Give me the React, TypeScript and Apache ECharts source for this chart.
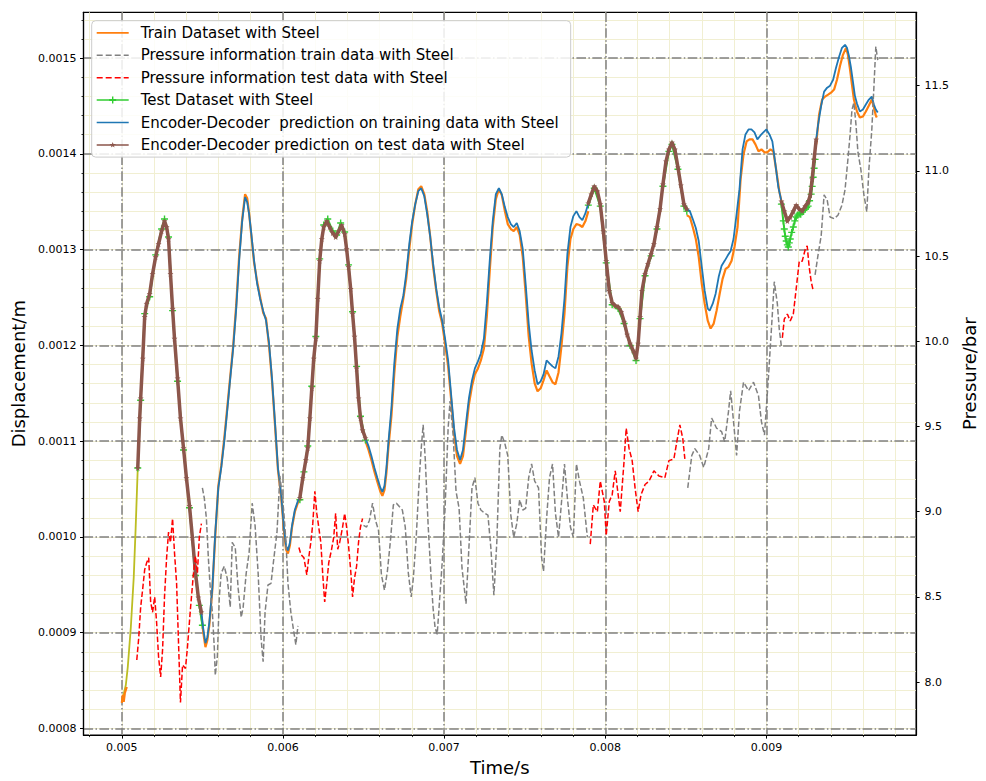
import React, { useEffect, useRef } from "react";
import * as echarts from "echarts";

type Pt = [number, number];

// ---------- Displacement (left axis) ----------
const initialRise: Pt[] = [[0.005000,0.0008298],[0.005012,0.0008361],[0.005025,0.0008454],[0.005037,0.0008641],[0.005056,0.0009057],[0.005074,0.0009577],[0.005086,0.0010097],[0.005099,0.0010720]];

const trainSeg0: Pt[] = [[0.005000,0.0008267],[0.005006,0.0008350],[0.005012,0.0008278],[0.005019,0.0008371],[0.005031,0.0008433]];
const trainSeg1: Pt[] = [[0.005494,0.0009182],[0.005506,0.0008995],[0.005519,0.0008849],[0.005531,0.0008922],[0.005543,0.0009078],[0.005562,0.0009452],[0.005580,0.0010014],[0.005599,0.0010533],[0.005617,0.0010741],[0.005636,0.0011032],[0.005654,0.0011344],[0.005673,0.0011677],[0.005691,0.0011989],[0.005710,0.0012425],[0.005728,0.0012924],[0.005747,0.0013319],[0.005765,0.0013579],[0.005778,0.0013537],[0.005790,0.0013381],[0.005802,0.0013174],[0.005821,0.0012862],[0.005840,0.0012664],[0.005858,0.0012508],[0.005877,0.0012342],[0.005895,0.0012280],[0.005914,0.0011989],[0.005932,0.0011635],[0.005951,0.0011157],[0.005969,0.0010700],[0.005988,0.0010429],[0.006006,0.0010066],[0.006019,0.0009868],[0.006031,0.0009826],[0.006043,0.0009910],[0.006056,0.0010097],[0.006074,0.0010263],[0.006093,0.0010357],[0.006105,0.0010388]];
const trainSeg2: Pt[] = [[0.006512,0.0011001],[0.006531,0.0010908],[0.006549,0.0010804],[0.006568,0.0010679],[0.006586,0.0010575],[0.006605,0.0010471],[0.006617,0.0010429],[0.006630,0.0010492],[0.006642,0.0010668],[0.006654,0.0010928],[0.006673,0.0011261],[0.006691,0.0011708],[0.006710,0.0012093],[0.006728,0.0012300],[0.006747,0.0012488],[0.006765,0.0012695],[0.006784,0.0013007],[0.006802,0.0013267],[0.006821,0.0013475],[0.006840,0.0013631],[0.006858,0.0013662],[0.006877,0.0013579],[0.006895,0.0013402],[0.006914,0.0013132],[0.006932,0.0012820],[0.006951,0.0012571],[0.006969,0.0012363],[0.006988,0.0012228],[0.007006,0.0012020],[0.007025,0.0011781],[0.007043,0.0011448],[0.007062,0.0011074],[0.007080,0.0010845],[0.007099,0.0010762],[0.007117,0.0010845],[0.007136,0.0011115],[0.007154,0.0011386],[0.007173,0.0011573],[0.007191,0.0011698],[0.007210,0.0011760],[0.007228,0.0011843],[0.007247,0.0011968],[0.007265,0.0012300],[0.007284,0.0012799],[0.007302,0.0013236],[0.007321,0.0013527],[0.007340,0.0013631],[0.007358,0.0013569],[0.007377,0.0013402],[0.007395,0.0013267],[0.007414,0.0013215],[0.007432,0.0013194],[0.007451,0.0013236],[0.007469,0.0013153],[0.007488,0.0012924],[0.007506,0.0012540],[0.007525,0.0012093],[0.007543,0.0011812],[0.007562,0.0011604],[0.007580,0.0011521],[0.007599,0.0011552],[0.007617,0.0011635],[0.007636,0.0011739],[0.007654,0.0011677],[0.007673,0.0011614],[0.007691,0.0011594],[0.007710,0.0011718],[0.007728,0.0011989],[0.007747,0.0012332],[0.007765,0.0012820],[0.007784,0.0013111],[0.007802,0.0013215],[0.007821,0.0013267],[0.007840,0.0013257],[0.007858,0.0013236],[0.007877,0.0013298],[0.007895,0.0013402]];
const trainSeg3: Pt[] = [[0.008506,0.0013361],[0.008525,0.0013340],[0.008543,0.0013236],[0.008562,0.0013111],[0.008580,0.0012924],[0.008599,0.0012643],[0.008617,0.0012436],[0.008636,0.0012259],[0.008654,0.0012176],[0.008673,0.0012228],[0.008691,0.0012363],[0.008710,0.0012540],[0.008728,0.0012695],[0.008747,0.0012799],[0.008765,0.0012820],[0.008784,0.0012883],[0.008802,0.0013028],[0.008821,0.0013236],[0.008840,0.0013735],[0.008858,0.0013995],[0.008877,0.0014130],[0.008895,0.0014151],[0.008914,0.0014151],[0.008932,0.0014099],[0.008951,0.0014026],[0.008969,0.0014047],[0.008988,0.0014016],[0.009006,0.0014016],[0.009025,0.0014047],[0.009043,0.0014026],[0.009062,0.0013818],[0.009080,0.0013610],[0.009093,0.0013506]];
const trainSeg4: Pt[] = [[0.009309,0.0014099],[0.009327,0.0014411],[0.009346,0.0014567],[0.009364,0.0014598],[0.009383,0.0014618],[0.009401,0.0014639],[0.009420,0.0014671],[0.009438,0.0014774],[0.009457,0.0014920],[0.009475,0.0015034],[0.009494,0.0015107],[0.009506,0.0015034],[0.009519,0.0014879],[0.009531,0.0014722],[0.009543,0.0014567],[0.009562,0.0014442],[0.009580,0.0014379],[0.009599,0.0014390],[0.009617,0.0014442],[0.009636,0.0014504],[0.009654,0.0014567],[0.009667,0.0014483],[0.009679,0.0014400],[0.009685,0.0014379]];

const testSeg1: Pt[] = [[0.005099,0.0010720],[0.005117,0.0011427],[0.005142,0.0012332],[0.005173,0.0012508],[0.005210,0.0012945],[0.005247,0.0013215],[0.005265,0.0013319],[0.005290,0.0013132],[0.005315,0.0012363],[0.005346,0.0011625],[0.005383,0.0010908],[0.005420,0.0010305],[0.005457,0.0009598],[0.005481,0.0009286],[0.005500,0.0009078]];
const testSeg2: Pt[] = [[0.006105,0.0010388],[0.006130,0.0010679],[0.006154,0.0010949],[0.006179,0.0011573],[0.006204,0.0012093],[0.006228,0.0012903],[0.006253,0.0013257],[0.006278,0.0013319],[0.006309,0.0013194],[0.006333,0.0013153],[0.006358,0.0013278],[0.006383,0.0013184],[0.006407,0.0012841],[0.006432,0.0012352],[0.006457,0.0011781],[0.006481,0.0011261],[0.006512,0.0011011]];
const testSeg3: Pt[] = [[0.007895,0.0013465],[0.007932,0.0013641],[0.007969,0.0013454],[0.008006,0.0012862],[0.008043,0.0012425],[0.008080,0.0012384],[0.008117,0.0012228],[0.008154,0.0011999],[0.008191,0.0011843],[0.008216,0.0012280],[0.008247,0.0012727],[0.008284,0.0012935],[0.008321,0.0013215],[0.008358,0.0013662],[0.008395,0.0014026],[0.008414,0.0014099],[0.008451,0.0013839],[0.008488,0.0013454],[0.008506,0.0013402]];
const testSeg4: Pt[] = [[0.009093,0.0013475],[0.009105,0.0013300],[0.009111,0.0013215],[0.009117,0.0013140],[0.009123,0.0013090],[0.009130,0.0013050],[0.009136,0.0013028],[0.009142,0.0013070],[0.009148,0.0013111],[0.009157,0.0013180],[0.009167,0.0013236],[0.009176,0.0013300],[0.009185,0.0013340],[0.009194,0.0013360],[0.009204,0.0013381],[0.009213,0.0013370],[0.009222,0.0013392],[0.009231,0.0013410],[0.009241,0.0013423],[0.009250,0.0013440],[0.009259,0.0013454],[0.009268,0.0013510],[0.009278,0.0013579],[0.009284,0.0013660],[0.009290,0.0013756],[0.009296,0.0013850],[0.009302,0.0013942]];

const predTrainSeg1: Pt[] = [[0.005494,0.0009213],[0.005506,0.0009036],[0.005519,0.0008891],[0.005531,0.0008953],[0.005543,0.0009109],[0.005562,0.0009473],[0.005580,0.0010045],[0.005599,0.0010512],[0.005617,0.0010720],[0.005636,0.0011001],[0.005654,0.0011313],[0.005673,0.0011656],[0.005691,0.0011968],[0.005710,0.0012384],[0.005728,0.0012883],[0.005747,0.0013298],[0.005765,0.0013548],[0.005778,0.0013496],[0.005790,0.0013371],[0.005802,0.0013194],[0.005821,0.0012883],[0.005840,0.0012643],[0.005858,0.0012488],[0.005877,0.0012363],[0.005895,0.0012259],[0.005914,0.0012020],[0.005932,0.0011656],[0.005951,0.0011188],[0.005969,0.0010720],[0.005988,0.0010461],[0.006006,0.0010097],[0.006019,0.0009910],[0.006031,0.0009858],[0.006043,0.0009941],[0.006056,0.0010117],[0.006074,0.0010284],[0.006093,0.0010377],[0.006105,0.0010409]];
const predTrainSeg2: Pt[] = [[0.006512,0.0011032],[0.006531,0.0010949],[0.006549,0.0010845],[0.006568,0.0010720],[0.006586,0.0010616],[0.006605,0.0010512],[0.006617,0.0010471],[0.006630,0.0010533],[0.006642,0.0010720],[0.006654,0.0010980],[0.006673,0.0011344],[0.006691,0.0011812],[0.006710,0.0012176],[0.006728,0.0012384],[0.006747,0.0012519],[0.006765,0.0012747],[0.006784,0.0013059],[0.006802,0.0013298],[0.006821,0.0013475],[0.006840,0.0013610],[0.006858,0.0013641],[0.006877,0.0013558],[0.006895,0.0013371],[0.006914,0.0013132],[0.006932,0.0012851],[0.006951,0.0012592],[0.006969,0.0012404],[0.006988,0.0012259],[0.007006,0.0012072],[0.007025,0.0011843],[0.007043,0.0011500],[0.007062,0.0011136],[0.007080,0.0010908],[0.007099,0.0010804],[0.007117,0.0010908],[0.007136,0.0011188],[0.007154,0.0011448],[0.007173,0.0011635],[0.007191,0.0011760],[0.007210,0.0011833],[0.007228,0.0011916],[0.007247,0.0012072],[0.007265,0.0012436],[0.007284,0.0012903],[0.007302,0.0013298],[0.007321,0.0013579],[0.007340,0.0013641],[0.007358,0.0013579],[0.007377,0.0013444],[0.007395,0.0013340],[0.007414,0.0013267],[0.007432,0.0013236],[0.007451,0.0013278],[0.007469,0.0013194],[0.007488,0.0013007],[0.007506,0.0012643],[0.007525,0.0012228],[0.007543,0.0011947],[0.007562,0.0011739],[0.007580,0.0011594],[0.007599,0.0011625],[0.007617,0.0011698],[0.007636,0.0011843],[0.007654,0.0011812],[0.007673,0.0011781],[0.007691,0.0011760],[0.007710,0.0011885],[0.007728,0.0012124],[0.007747,0.0012488],[0.007765,0.0012955],[0.007784,0.0013236],[0.007802,0.0013350],[0.007821,0.0013402],[0.007840,0.0013340],[0.007858,0.0013309],[0.007877,0.0013381],[0.007895,0.0013485]];
const predTrainSeg3: Pt[] = [[0.008506,0.0013423],[0.008525,0.0013402],[0.008543,0.0013319],[0.008562,0.0013226],[0.008580,0.0013090],[0.008599,0.0012820],[0.008617,0.0012571],[0.008636,0.0012384],[0.008648,0.0012363],[0.008667,0.0012436],[0.008685,0.0012540],[0.008704,0.0012716],[0.008722,0.0012831],[0.008741,0.0012883],[0.008759,0.0012935],[0.008778,0.0012986],[0.008796,0.0013111],[0.008815,0.0013371],[0.008833,0.0013631],[0.008852,0.0014047],[0.008870,0.0014203],[0.008889,0.0014255],[0.008907,0.0014255],[0.008926,0.0014224],[0.008944,0.0014151],[0.008963,0.0014192],[0.008981,0.0014224],[0.009000,0.0014255],[0.009019,0.0014203],[0.009037,0.0014130],[0.009056,0.0013891],[0.009074,0.0013652],[0.009093,0.0013506]];
const predTrainSeg4: Pt[] = [[0.009309,0.0014151],[0.009321,0.0014307],[0.009340,0.0014504],[0.009358,0.0014650],[0.009377,0.0014691],[0.009395,0.0014712],[0.009414,0.0014774],[0.009432,0.0014899],[0.009451,0.0015014],[0.009469,0.0015107],[0.009488,0.0015138],[0.009500,0.0015107],[0.009512,0.0015024],[0.009525,0.0014899],[0.009537,0.0014754],[0.009549,0.0014608],[0.009562,0.0014525],[0.009580,0.0014442],[0.009599,0.0014463],[0.009617,0.0014515],[0.009636,0.0014567],[0.009654,0.0014598],[0.009667,0.0014515],[0.009679,0.0014463],[0.009691,0.0014431]];

const predTestSeg1: Pt[] = [[0.005099,0.0010720],[0.005111,0.0011240],[0.005117,0.0011448],[0.005130,0.0011864],[0.005142,0.0012300],[0.005154,0.0012436],[0.005173,0.0012540],[0.005191,0.0012747],[0.005210,0.0012924],[0.005228,0.0013059],[0.005247,0.0013194],[0.005265,0.0013298],[0.005278,0.0013236],[0.005290,0.0013111],[0.005302,0.0012747],[0.005315,0.0012384],[0.005327,0.0012072],[0.005346,0.0011656],[0.005364,0.0011240],[0.005383,0.0010928],[0.005401,0.0010616],[0.005420,0.0010325],[0.005438,0.0009993],[0.005457,0.0009629],[0.005475,0.0009369],[0.005494,0.0009213]];
const predTestSeg2: Pt[] = [[0.006105,0.0010409],[0.006123,0.0010616],[0.006142,0.0010804],[0.006154,0.0010928],[0.006167,0.0011240],[0.006179,0.0011552],[0.006191,0.0011864],[0.006204,0.0012072],[0.006216,0.0012488],[0.006228,0.0012883],[0.006241,0.0013111],[0.006253,0.0013236],[0.006272,0.0013298],[0.006290,0.0013236],[0.006309,0.0013174],[0.006327,0.0013132],[0.006346,0.0013194],[0.006364,0.0013257],[0.006383,0.0013163],[0.006395,0.0013007],[0.006407,0.0012820],[0.006420,0.0012592],[0.006432,0.0012332],[0.006444,0.0012093],[0.006457,0.0011760],[0.006469,0.0011448],[0.006481,0.0011240],[0.006494,0.0011115],[0.006512,0.0011032]];
const predTestSeg3: Pt[] = [[0.007895,0.0013485],[0.007914,0.0013579],[0.007932,0.0013662],[0.007951,0.0013610],[0.007969,0.0013475],[0.007988,0.0013194],[0.008006,0.0012883],[0.008025,0.0012571],[0.008043,0.0012446],[0.008062,0.0012415],[0.008080,0.0012404],[0.008099,0.0012352],[0.008117,0.0012248],[0.008136,0.0012113],[0.008154,0.0012020],[0.008173,0.0011947],[0.008191,0.0011864],[0.008204,0.0012020],[0.008216,0.0012300],[0.008228,0.0012571],[0.008247,0.0012747],[0.008265,0.0012851],[0.008284,0.0012955],[0.008302,0.0013059],[0.008321,0.0013236],[0.008340,0.0013423],[0.008358,0.0013683],[0.008377,0.0013922],[0.008395,0.0014047],[0.008414,0.0014120],[0.008432,0.0014047],[0.008451,0.0013860],[0.008469,0.0013673],[0.008488,0.0013475],[0.008506,0.0013423]];
const predTestSeg4: Pt[] = [[0.009093,0.0013506],[0.009111,0.0013402],[0.009130,0.0013298],[0.009148,0.0013340],[0.009167,0.0013402],[0.009185,0.0013465],[0.009204,0.0013423],[0.009222,0.0013402],[0.009241,0.0013454],[0.009259,0.0013496],[0.009272,0.0013569],[0.009284,0.0013735],[0.009296,0.0013942],[0.009309,0.0014151]];

// ---------- Pressure (right axis) ----------
const pressTrainSeg1: Pt[] = [[0.005500,9.14],[0.005512,9.08],[0.005525,8.96],[0.005537,8.73],[0.005549,8.55],[0.005562,8.41],[0.005574,8.20],[0.005580,8.04],[0.005593,8.15],[0.005605,8.50],[0.005617,8.64],[0.005636,8.68],[0.005654,8.61],[0.005673,8.44],[0.005685,8.82],[0.005704,8.79],[0.005722,8.55],[0.005741,8.38],[0.005753,8.44],[0.005772,8.64],[0.005790,8.76],[0.005809,9.05],[0.005827,8.92],[0.005846,8.64],[0.005864,8.26],[0.005877,8.12],[0.005889,8.41],[0.005907,8.57],[0.005926,8.58],[0.005944,8.73],[0.005963,8.88],[0.005981,9.21],[0.005994,9.11],[0.006006,8.99],[0.006019,8.82],[0.006031,8.58],[0.006049,8.41],[0.006068,8.29],[0.006080,8.22],[0.006093,8.33]];
const pressTrainSeg2: Pt[] = [[0.006500,8.92],[0.006519,8.91],[0.006537,8.95],[0.006556,9.05],[0.006574,8.95],[0.006593,8.89],[0.006611,8.63],[0.006630,8.54],[0.006648,8.65],[0.006667,8.83],[0.006685,9.04],[0.006704,9.05],[0.006722,9.03],[0.006741,9.01],[0.006759,8.91],[0.006778,8.64],[0.006796,8.50],[0.006809,8.61],[0.006827,8.85],[0.006846,9.20],[0.006858,9.37],[0.006870,9.51],[0.006883,9.31],[0.006901,8.92],[0.006920,8.60],[0.006932,8.43],[0.006944,8.32],[0.006957,8.28],[0.006969,8.44],[0.006988,8.70],[0.007006,9.02],[0.007025,9.49],[0.007037,9.65],[0.007056,9.45],[0.007074,9.12],[0.007093,9.02],[0.007111,8.67],[0.007136,8.46],[0.007154,8.79],[0.007173,9.14],[0.007191,9.20],[0.007210,9.05],[0.007228,9.01],[0.007253,8.99],[0.007272,8.98],[0.007290,8.79],[0.007309,8.51],[0.007327,8.82],[0.007346,9.37],[0.007358,9.45],[0.007377,9.40],[0.007395,9.33],[0.007414,8.98],[0.007432,8.85],[0.007451,8.93],[0.007469,9.07],[0.007488,9.01],[0.007506,9.02],[0.007525,9.20],[0.007543,9.28],[0.007562,9.18],[0.007586,9.14],[0.007605,8.73],[0.007617,8.65],[0.007636,8.96],[0.007654,9.20],[0.007673,9.28],[0.007691,8.99],[0.007710,8.85],[0.007728,9.05],[0.007747,9.28],[0.007765,9.08],[0.007784,8.91],[0.007802,8.85],[0.007821,9.28],[0.007840,9.18],[0.007864,9.08],[0.007889,8.85]];
const pressTrainSeg3: Pt[] = [[0.008512,9.14],[0.008537,9.33],[0.008556,9.37],[0.008586,9.33],[0.008611,9.26],[0.008642,9.37],[0.008660,9.55],[0.008691,9.49],[0.008722,9.47],[0.008741,9.41],[0.008765,9.59],[0.008778,9.71],[0.008796,9.53],[0.008815,9.33],[0.008833,9.59],[0.008858,9.76],[0.008889,9.71],[0.008920,9.76],[0.008951,9.68],[0.008969,9.53],[0.008988,9.45],[0.009012,9.78],[0.009031,10.07],[0.009049,10.35],[0.009068,10.22],[0.009080,10.07],[0.009093,9.97]];
const pressTrainSeg4: Pt[] = [[0.009302,10.39],[0.009321,10.51],[0.009340,10.62],[0.009358,10.86],[0.009377,10.83],[0.009395,10.73],[0.009420,10.72],[0.009444,10.74],[0.009469,10.80],[0.009488,10.89],[0.009506,11.07],[0.009519,11.21],[0.009531,11.36],[0.009543,11.40],[0.009556,11.27],[0.009568,11.11],[0.009586,11.01],[0.009605,10.86],[0.009623,10.76],[0.009636,11.01],[0.009654,11.24],[0.009667,11.49],[0.009679,11.73],[0.009691,11.65]];

const pressTestSeg1: Pt[] = [[0.005093,8.13],[0.005105,8.26],[0.005117,8.44],[0.005130,8.55],[0.005142,8.66],[0.005154,8.70],[0.005167,8.73],[0.005179,8.47],[0.005191,8.41],[0.005204,8.50],[0.005216,8.35],[0.005228,8.15],[0.005241,8.03],[0.005253,8.19],[0.005265,8.50],[0.005278,8.73],[0.005290,8.88],[0.005302,8.82],[0.005315,8.96],[0.005327,8.76],[0.005340,8.58],[0.005352,8.23],[0.005364,7.88],[0.005377,8.10],[0.005395,8.08],[0.005407,8.20],[0.005426,8.43],[0.005444,8.63],[0.005457,8.74],[0.005469,8.64],[0.005481,8.85],[0.005494,8.93]];
const pressTestSeg2: Pt[] = [[0.006099,8.79],[0.006111,8.75],[0.006130,8.73],[0.006148,8.63],[0.006160,8.73],[0.006173,8.82],[0.006185,8.93],[0.006198,9.12],[0.006210,8.99],[0.006222,8.91],[0.006235,8.82],[0.006247,8.63],[0.006259,8.47],[0.006272,8.58],[0.006284,8.70],[0.006302,8.78],[0.006315,8.85],[0.006327,8.99],[0.006340,8.78],[0.006352,8.82],[0.006370,8.91],[0.006383,8.99],[0.006395,8.91],[0.006407,8.80],[0.006420,8.66],[0.006432,8.50],[0.006444,8.61],[0.006457,8.68],[0.006469,8.82],[0.006481,8.91],[0.006494,8.96]];
const pressTestSeg3: Pt[] = [[0.007907,8.81],[0.007926,9.04],[0.007951,9.00],[0.007969,9.18],[0.007994,9.06],[0.008006,8.86],[0.008025,9.06],[0.008043,9.10],[0.008062,9.24],[0.008080,9.10],[0.008093,9.00],[0.008117,9.30],[0.008130,9.49],[0.008148,9.37],[0.008167,9.30],[0.008185,9.14],[0.008204,9.00],[0.008222,9.10],[0.008247,9.16],[0.008272,9.18],[0.008302,9.24],[0.008333,9.21],[0.008370,9.20],[0.008395,9.30],[0.008426,9.31],[0.008444,9.41],[0.008463,9.51],[0.008481,9.43],[0.008494,9.31]];
const pressTestSeg4: Pt[] = [[0.009099,10.02],[0.009111,10.13],[0.009130,10.16],[0.009148,10.12],[0.009167,10.16],[0.009185,10.31],[0.009204,10.47],[0.009222,10.47],[0.009241,10.54],[0.009253,10.56],[0.009265,10.44],[0.009278,10.35],[0.009290,10.30]];

// ---------- Ticks ----------
const xMajorTicks = [0.005, 0.006, 0.007, 0.008, 0.009];
const xMinorTicks = [0.0048,0.0050,0.0052,0.0054,0.0056,0.0058,0.0060,0.0062,0.0064,0.0066,0.0068,0.0070,0.0072,0.0074,0.0076,0.0078,0.0080,0.0082,0.0084,0.0086,0.0088,0.0090,0.0092,0.0094,0.0096,0.0098];
const yMajorTicks = [0.0008,0.0009,0.0010,0.0011,0.0012,0.0013,0.0014,0.0015];
const yMinorTicks = [0.00080,0.00082,0.00084,0.00086,0.00088,0.00090,0.00092,0.00094,0.00096,0.00098,0.00100,0.00102,0.00104,0.00106,0.00108,0.00110,0.00112,0.00114,0.00116,0.00118,0.00120,0.00122,0.00124,0.00126,0.00128,0.00130,0.00132,0.00134,0.00136,0.00138,0.00140,0.00142,0.00144,0.00146,0.00148,0.00150,0.00152,0.00154];
const pMajorTicks = [8.0,8.5,9.0,9.5,10.0,10.5,11.0,11.5];

const NAMES = [
  "Train Dataset with Steel",
  "Pressure information train data with Steel",
  "Pressure information test data with Steel",
  "Test Dataset with Steel",
  "Encoder-Decoder  prediction on training data with Steel",
  "Encoder-Decoder prediction on test data with Steel",
];

const X_MIN = 0.0047623, X_MAX = 0.009929;
const Y_MIN = 0.0007931, Y_MAX = 0.0015478;
const P_MIN = 7.689, P_MAX = 11.931;

const FONT = "DejaVu Sans";
const DASH_DOT = [9.6, 2.4, 1.5, 2.4];
const PLUS = "path://M4,0H6V4H10V6H6V10H4V6H0V4H4Z";
const STAR = "path://M5,0L6.2,3.5L10,3.6L7,5.9L8.1,9.5L5,7.4L1.9,9.5L3,5.9L0,3.6L3.8,3.5Z";

// legend icons (32 x 12 box, tiny corner squares fix the bounding box)
const CORNERS = "M0,0h0.02v0.02h-0.02Z M31.98,11.98h0.02v0.02h-0.02Z ";
const ICON_SOLID = "path://" + CORNERS + "M0,5.2H32V6.8H0Z";
const ICON_DASHED = "path://" + CORNERS + "M0,5.25H6V6.75H0Z M9,5.25H15V6.75H9Z M18,5.25H24V6.75H18Z M27,5.25H32V6.75H27Z";
const ICON_PLUS = "path://" + CORNERS + "M0,5.25H32V6.75H0Z M15.3,2.5H16.7V9.5H15.3Z M12.5,5H19.5V7H12.5Z";
const ICON_STAR = "path://" + CORNERS + "M0,5.25H32V6.75H0Z M16,3L16.72,5.1L19,5.16L17.2,6.54L17.86,8.7L16,7.44L14.14,8.7L14.8,6.54L13,5.16L15.28,5.1Z";

function joinSegs(segs: Pt[][]): any[] {
  const out: any[] = [];
  segs.forEach((s, i) => {
    if (i > 0) out.push(["-", "-"]);
    s.forEach((p) => out.push(p));
  });
  return out;
}

export default function App() {
  const ref = useRef<HTMLDivElement>(null);
  useEffect(() => {
    if (!ref.current) return;
    const chart = echarts.init(ref.current, undefined, { renderer: "svg" });
    const axisLine = { show: true, onZero: false, lineStyle: { color: "#000", width: 1.2 } };
    const labelStyle = { fontSize: 11, color: "#000", fontFamily: FONT };
    const nameStyle = { fontSize: 18, color: "#000", fontFamily: FONT };
    const base = (name: string, data: any[], color: string, yAxisIndex: number, z: number, extra: any = {}) => ({
      type: "line",
      name,
      data,
      xAxisIndex: 0,
      yAxisIndex,
      z,
      symbol: "none",
      showSymbol: false,
      connectNulls: false,
      silent: true,
      emphasis: { disabled: true },
      itemStyle: { color },
      lineStyle: { color, width: 1.8 },
      ...extra,
    });
    const option: any = {
      animation: false,
      backgroundColor: "#fff",
      textStyle: { fontFamily: FONT },
      grid: { left: 83.5, right: 65.5, top: 12.3, bottom: 42.7, show: true, borderColor: "#000", borderWidth: 1.2, backgroundColor: "#fff" },
      legend: {
        data: [
          { name: NAMES[0], icon: ICON_SOLID },
          { name: NAMES[1], icon: ICON_DASHED },
          { name: NAMES[2], icon: ICON_DASHED },
          { name: NAMES[3], icon: ICON_PLUS },
          { name: NAMES[4], icon: ICON_SOLID },
          { name: NAMES[5], icon: ICON_STAR },
        ],
        orient: "vertical",
        left: 91.7,
        top: 20.7,
        padding: [1, 12, 1, 5],
        itemWidth: 32,
        itemHeight: 12,
        itemGap: 0,
        symbolKeepAspect: false,
        itemStyle: { borderWidth: 0 },
        backgroundColor: "rgba(255,255,255,0.85)",
        borderColor: "#cccccc",
        borderWidth: 1,
        borderRadius: 4,
        selectedMode: false,
        z: 10,
        textStyle: { fontSize: 15, color: "#000", fontFamily: FONT, lineHeight: 22.4, padding: [0, 0, 0, 7] },
      },
      xAxis: [
        {
          type: "value", min: X_MIN, max: X_MAX, position: "bottom", z: 1,
          name: "Time/s", nameLocation: "middle", nameGap: 21, nameTextStyle: nameStyle,
          axisLine,
          axisTick: { show: true, length: 3.5, customValues: xMajorTicks, lineStyle: { color: "#000", width: 1 } },
          axisLabel: { customValues: xMajorTicks, formatter: (v: number) => v.toFixed(3), margin: 7, ...labelStyle },
          splitLine: { show: true, lineStyle: { color: "#808080", width: 1.5, type: DASH_DOT } },
        },
        {
          type: "value", min: X_MIN, max: X_MAX, position: "bottom", z: 0,
          axisLine: { show: false },
          axisTick: { show: true, length: 2, customValues: xMinorTicks, lineStyle: { color: "#000", width: 0.8 } },
          axisLabel: { show: false },
          splitLine: { show: true, lineStyle: { color: "#f1efd2", width: 1 } },
        },
      ],
      yAxis: [
        {
          type: "value", min: Y_MIN, max: Y_MAX, position: "left", z: 1,
          name: "Displacement/m", nameLocation: "middle", nameGap: 52, nameRotate: 90, nameTextStyle: nameStyle,
          axisLine,
          axisTick: { show: true, length: 3.5, customValues: yMajorTicks, lineStyle: { color: "#000", width: 1 } },
          axisLabel: { customValues: yMajorTicks, formatter: (v: number) => v.toFixed(4), margin: 7, ...labelStyle },
          splitLine: { show: true, lineStyle: { color: "#808080", width: 1.5, type: DASH_DOT } },
        },
        {
          type: "value", min: P_MIN, max: P_MAX, position: "right", z: 1,
          name: "Pressure/bar", nameLocation: "middle", nameGap: 35.5, nameRotate: 90, nameTextStyle: nameStyle,
          axisLine,
          axisTick: { show: true, length: 3.5, customValues: pMajorTicks, lineStyle: { color: "#000", width: 1 } },
          axisLabel: { customValues: pMajorTicks, formatter: (v: number) => v.toFixed(1), margin: 8.5, ...labelStyle },
          splitLine: { show: false },
        },
        {
          type: "value", min: Y_MIN, max: Y_MAX, position: "left", z: 0,
          axisLine: { show: false },
          axisTick: { show: true, length: 2, customValues: yMinorTicks, lineStyle: { color: "#000", width: 0.8 } },
          axisLabel: { show: false },
          splitLine: { show: true, lineStyle: { color: "#f1efd2", width: 1 } },
        },
      ],
      series: [
        base("initial", initialRise, "#bcbd22", 0, 3, { lineStyle: { color: "#bcbd22", width: 1.8 } }),
        base(NAMES[0], joinSegs([trainSeg0, trainSeg1, trainSeg2, trainSeg3, trainSeg4]), "#ff7f0e", 0, 3, { lineStyle: { color: "#ff7f0e", width: 2.2 } }),
        base(NAMES[3], joinSegs([testSeg1, testSeg2, testSeg3, testSeg4]), "#32cd32", 0, 3, {
          symbol: PLUS, showSymbol: true, symbolSize: 7, lineStyle: { color: "#32cd32", width: 2 },
        }),
        base(NAMES[4], joinSegs([predTrainSeg1, predTrainSeg2, predTrainSeg3, predTrainSeg4]), "#1f77b4", 0, 4, { lineStyle: { color: "#1f77b4", width: 1.8 } }),
        base(NAMES[5], joinSegs([predTestSeg1, predTestSeg2, predTestSeg3, predTestSeg4]), "#8c564b", 0, 5, {
          symbol: STAR, showSymbol: true, symbolSize: 6, lineStyle: { color: "#8c564b", width: 3.5 },
        }),
        base(NAMES[1], joinSegs([pressTrainSeg1, pressTrainSeg2, pressTrainSeg3, pressTrainSeg4]), "#808080", 1, 6, {
          lineStyle: { color: "#808080", width: 1.5, type: [5.5, 2.4] },
        }),
        base(NAMES[2], joinSegs([pressTestSeg1, pressTestSeg2, pressTestSeg3, pressTestSeg4]), "#ff0000", 1, 6, {
          lineStyle: { color: "#ff0000", width: 1.5, type: [5.5, 2.4] },
        }),
      ],
    };
    chart.setOption(option);
    return () => chart.dispose();
  }, []);
  return <div ref={ref} style={{ position: "absolute", left: 0, top: 0, width: 986, height: 781 }} />;
}
